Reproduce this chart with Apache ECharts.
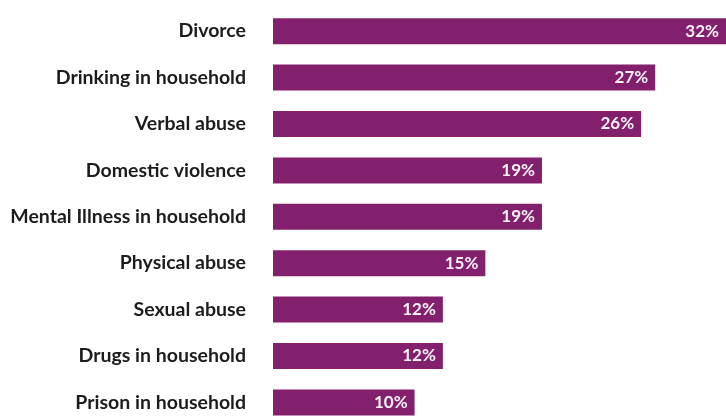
<!DOCTYPE html>
<html><head><meta charset="utf-8">
<script src="https://cdn.jsdelivr.net/npm/echarts@6/dist/echarts.min.js"></script>
<style>html,body{margin:0;padding:0;background:#fff;overflow:hidden}#c{width:726px;height:432px}</style>
</head><body><div id="c"></div>
<script>
var categories = ["Divorce","Drinking in household","Verbal abuse","Domestic violence","Mental Illness in household","Physical abuse","Sexual abuse","Drugs in household","Prison in household"];
var values = [32,27,26,19,19,15,12,12,10];
var chart = echarts.init(document.getElementById('c'));
chart.setOption({
  animation:false,
  grid:{left:273,width:453,top:8,height:417.6,containLabel:false},
  xAxis:{type:'value',min:0,max:32,show:false},
  yAxis:{type:'category',data:categories,inverse:true,
    axisLine:{show:false},axisTick:{show:false},
    axisLabel:{margin:27,color:'#1c1c1c',fontFamily:'Lato',fontWeight:'bold',fontSize:19.5}},
  series:[{type:'bar',data:values,barWidth:26,
    itemStyle:{color:'#83206d'},
    label:{show:true,position:'insideRight',distance:7,formatter:'{c}%',color:'#f7f0f6',fontFamily:'Lato',fontWeight:'bold',fontSize:17}}]
});
</script></body></html>
